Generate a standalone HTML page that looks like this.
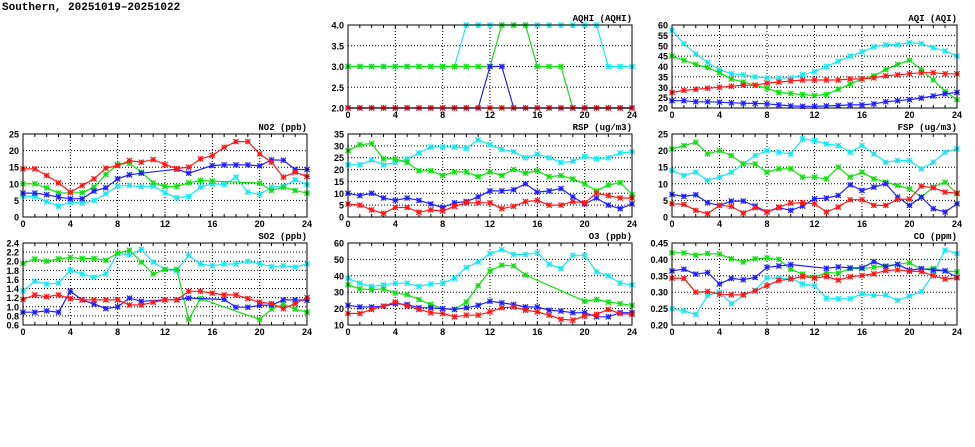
<!DOCTYPE html>
<html><head><meta charset="utf-8">
<style>
body{margin:0;background:#fff;width:975px;height:447px;overflow:hidden}
svg{display:block}
text{font-family:"Liberation Sans",sans-serif;font-weight:bold;fill:#000}
</style></head>
<body>
<svg id="chart" width="975" height="447">
<text x="2" y="10" font-size="11" style="font-family:'Liberation Mono',monospace">Southern, 20251019–20251022</text>
</svg>
<script>
const hours = [0,1,2,3,4,5,6,7,8,9,10,11,12,13,14,15,16,17,18,19,20,21,22,23,24];
const seriesColors = ["#18e8f0","#10e010","#2020ff","#ff1818"];

const aqhiCyan=[3,3,3,3,3,3,3,3,3,3,4,4,4,4,4,4,4,4,4,4,4,4,3,3,3];
const aqhiGreen=[3,3,3,3,3,3,3,3,3,3,3,3,3,4,4,4,3,3,3,2,2,2,2,2,2];
const aqhiBlue=[2,2,2,2,2,2,2,2,2,2,2,2,3,3,2,2,2,2,2,2,2,2,2,2,2];
const aqhiRed=[2,2,2,2,2,2,2,2,2,2,2,2,2,2,2,2,2,2,2,2,2,2,2,2,2];

const aqiCyan=[57.5,51,46,42,38.5,36.5,36,35,34.5,34.5,34.5,36,37.5,40,42.5,45,47,49.5,50.5,50.5,51.5,51,49,47.5,45];
const aqiGreen=[45,43,41,39.5,37,34,32.5,31,29.5,27.5,27,26.5,26,26.5,29,31.5,34,35.5,38.5,41,43,38.5,33.5,28,24];
const aqiBlue=[23.5,23.5,23,23,22.8,22.5,22.3,22.2,22,21.5,21,20.8,20.8,21,21.2,21.5,21.5,22,23,23.5,24,24.8,25.8,26.8,27.5];
const aqiRed=[27.5,28.5,29,29.5,30,30.5,31,31,32,32.5,33,33.5,33.5,33.5,33.5,34,34,34.5,35.5,36,36.5,37,37,36.5,36.5];

const no2Cyan=[6.3,6.2,4.6,3.3,4.5,4.2,5,7,9.3,9.5,9.1,9.3,7.3,5.8,6.2,9,10,9.8,12,7.5,6.8,9,9.2,11.2,9.8];
const no2Green=[10,10,8.8,7.2,7.3,7.3,9,12.8,15.8,16.2,13.5,10.3,9.2,9.2,10.3,11,10.8,null,null,null,10.2,8,9,8,7.2];
const no2Blue=[7.2,7.2,6.7,6,5.5,5.5,7.8,8.8,11.5,12.7,13.2,null,null,14.4,13.2,null,15.5,15.7,15.7,15.7,15.4,17.2,17.1,14.3,14.3];
const no2Red=[14.5,14.5,12.5,10.3,7.5,9.5,11.5,14.7,15.5,17,16.5,17.3,15.8,14.6,15,17.5,18.5,21,22.7,22.7,19,16.5,12,13.5,12.2];

const rspCyan=[22,22,24,22,23,24.5,27,29.5,29.5,29.5,29,32.5,30.5,28.5,27.5,25,26.5,25,23,23.5,25.5,24.5,25,27,27.5];
const rspGreen=[28,30.5,31,24.5,24.5,23,19.5,19.5,17.5,19,19,17,19,17.5,20,18.5,19.5,17,17.5,16,14,11,13.5,14.5,9.5];
const rspBlue=[10,9,10,8,7,8,7,5.5,4,6,6.5,8.5,11,11,11.5,14,10.5,11,12,8.5,5.5,8,5,3.5,5.5];
const rspRed=[5.5,5,3,1.5,4,4,2,3,2.5,4.5,6,6,6,3.5,4.5,6.5,7,5,5,6.5,6,10,9,8,8];

const fspCyan=[14,12.5,13.5,11,12,13.5,16,18.5,20,19.5,19,23.5,23,22,21.5,19.5,21.5,19,16.5,17,17,14.5,16.5,19.5,20.5];
const fspGreen=[20.5,21.5,22.5,19,20,18.5,16,16,13.5,14.5,14.5,12,12,11.5,15,12,13.5,11.5,10.5,9.5,8.5,6,9,10.5,7];
const fspBlue=[6.8,6.2,6.7,4.3,3.5,4.8,4.8,3.3,1.5,2.8,2,3.3,5.5,5.7,6.5,9.7,8,9,10,6,3.5,6,2.5,1.5,4];
const fspRed=[4,3.8,2,1,3.5,3.2,1.2,2.8,1.5,3,4.2,4.3,4,1.5,3,5.2,5.2,3.5,3.5,5.3,5.4,9.3,8.8,7.5,7.2];

const so2Cyan=[1.35,1.56,1.5,1.52,1.8,1.72,1.65,1.72,2.17,2.14,2.26,1.98,1.82,1.8,2.13,1.94,1.9,1.94,1.94,2.0,1.94,1.88,1.9,1.87,1.94];
const so2Green=[1.95,2.05,2.0,2.05,2.08,2.06,2.06,2.02,2.18,2.24,1.98,1.72,1.82,1.82,0.72,1.18,null,null,null,null,0.72,0.95,1.05,0.95,0.88];
const so2Blue=[0.88,0.88,0.91,0.88,1.34,1.15,1.06,0.96,1.0,1.19,1.12,null,1.15,1.15,1.19,null,null,1.16,0.99,0.99,1.03,1.04,1.15,1.15,1.14];
const so2Red=[1.16,1.26,1.22,1.26,1.18,1.15,1.15,1.15,1.15,1.04,1.04,1.1,1.15,1.15,1.34,1.34,1.3,1.26,1.26,1.18,1.1,1.07,0.96,1.07,1.2];

const o3Cyan=[38.5,35.5,33.5,34.5,35.5,35.5,33.5,35,35.5,38.5,45,48.5,53.5,56,53,53,54,47,44.5,52.5,52.5,42.5,40,35.5,34.5];
const o3Green=[34.5,32,31.5,32,29.5,28.5,25.5,22.5,20,19.5,24,34,43,46.5,46,40.5,null,null,null,null,24.5,25.5,24,23,22];
const o3Blue=[22,21,21,21.5,23,22.5,20.5,20.5,20,19.5,20.5,22,24.5,23.5,22.5,21,21,19,18.5,17.5,17.5,15,15,17.5,17.5];
const o3Red=[17,17,19.5,21.5,24,21.5,19.5,17.5,17,15,16,16,18,20.5,21,19,18,16,13.5,13,15.5,16.5,19.5,17,16.5];

const coCyan=[0.25,0.243,0.232,0.29,0.30,0.265,0.29,0.306,0.344,0.342,0.342,0.325,0.32,0.282,0.28,0.28,0.295,0.29,0.291,0.275,0.288,0.302,0.355,0.428,0.418];
const coGreen=[0.42,0.42,0.413,0.418,0.416,0.402,0.392,0.402,0.404,0.40,0.37,0.355,0.345,0.36,0.358,0.372,0.372,0.376,0.38,0.385,0.39,0.37,0.372,0.365,0.362];
const coBlue=[0.365,0.37,0.355,0.36,0.325,0.342,0.338,0.345,0.376,0.38,0.384,null,null,0.373,0.377,0.374,0.374,0.393,0.378,0.385,0.367,0.372,0.367,0.365,0.345];
const coRed=[0.343,0.342,0.30,0.302,0.294,0.292,0.292,0.304,0.32,0.336,0.34,0.348,0.343,0.348,0.337,0.347,0.351,0.356,0.366,0.368,0.364,0.363,0.35,0.34,0.344];

const xTicks=[0,4,8,12,16,20,24];
const aqhiTicks=[2,2.5,3,3.5,4];
const aqiTicks=[20,25,30,35,40,45,50,55,60];
const no2Ticks=[0,5,10,15,20,25];
const rspTicks=[0,5,10,15,20,25,30,35];
const fspTicks=[0,5,10,15,20,25];
const so2Ticks=[0.6,0.8,1.0,1.2,1.4,1.6,1.8,2.0,2.2,2.4];
const o3Ticks=[10,20,30,40,50,60];
const coTicks=[0.20,0.25,0.30,0.35,0.40,0.45];

const NS="http://www.w3.org/2000/svg";
const svg=document.getElementById('chart');
function mk(tag,attrs,parent){const e=document.createElementNS(NS,tag);for(const k in attrs)e.setAttribute(k,attrs[k]);(parent||svg).appendChild(e);return e;}

const panels=[
 {id:'aqhi',title:'AQHI (AQHI)',x0:348,x1:632,y0:25,y1:108,ticks:aqhiTicks,dec:1,series:[aqhiCyan,aqhiGreen,aqhiBlue,aqhiRed]},
 {id:'aqi',title:'AQI (AQI)',x0:672,x1:957,y0:25,y1:108,ticks:aqiTicks,dec:0,series:[aqiCyan,aqiGreen,aqiBlue,aqiRed]},
 {id:'no2',title:'NO2 (ppb)',x0:23,x1:307,y0:134,y1:217,ticks:no2Ticks,dec:0,series:[no2Cyan,no2Green,no2Blue,no2Red]},
 {id:'rsp',title:'RSP (ug/m3)',x0:348,x1:632,y0:134,y1:217,ticks:rspTicks,dec:0,series:[rspCyan,rspGreen,rspBlue,rspRed]},
 {id:'fsp',title:'FSP (ug/m3)',x0:672,x1:957,y0:134,y1:217,ticks:fspTicks,dec:0,series:[fspCyan,fspGreen,fspBlue,fspRed]},
 {id:'so2',title:'SO2 (ppb)',x0:23,x1:307,y0:243,y1:325,ticks:so2Ticks,dec:1,series:[so2Cyan,so2Green,so2Blue,so2Red]},
 {id:'o3',title:'O3 (ppb)',x0:348,x1:632,y0:243,y1:325,ticks:o3Ticks,dec:0,series:[o3Cyan,o3Green,o3Blue,o3Red]},
 {id:'co',title:'CO (ppm)',x0:672,x1:957,y0:243,y1:325,ticks:coTicks,dec:2,series:[coCyan,coGreen,coBlue,coRed]}
];
const seriesNames=['cyan','green','blue','red'];

panels.forEach(p=>{
 const g=mk('g',{});
 
 
 const ymin=p.ticks[0],ymax=p.ticks[p.ticks.length-1];
 const xs=v=>p.x0+(v-0)/(24)*(p.x1-p.x0);
 const ys=v=>p.y1-(v-ymin)/(ymax-ymin)*(p.y1-p.y0);
 const clip=mk('clipPath',{id:'clip-'+p.id},g);
 mk('rect',{x:p.x0-3,y:p.y0-3,width:p.x1-p.x0+6,height:p.y1-p.y0+6},clip);
 // grid
 p.ticks.forEach(t=>{
  const y=ys(t);
  if(t!==ymin&&t!==ymax){const l=mk('line',{x1:p.x0,x2:p.x1,y1:y,y2:y,stroke:'#000','stroke-width':1,'stroke-dasharray':'1,2'},g);
   }
  const tx=mk('text',{x:p.x0-4,y:y+3.5,'font-size':9,'text-anchor':'end'},g);
  tx.textContent=t.toFixed(p.dec);
  
 });
 for(let h=1;h<24;h++){
  const x=xs(h);
  mk('line',{x1:x,x2:x,y1:p.y1,y2:p.y1-3,stroke:'#000','stroke-width':1},g);
  mk('line',{x1:x,x2:x,y1:p.y0,y2:p.y0+3,stroke:'#000','stroke-width':1},g);
 }
 xTicks.forEach(t=>{
  const x=xs(t);
  if(t!==0&&t!==24){const l=mk('line',{x1:x,x2:x,y1:p.y0,y2:p.y1,stroke:'#000','stroke-width':1,'stroke-dasharray':'1,2'},g);
   }
  const tx=mk('text',{x:x,y:p.y1+10,'font-size':9,'text-anchor':'middle'},g);
  tx.textContent=t;
  
 });
 const sg=mk('g',{'clip-path':'url(#clip-'+p.id+')'},g);
 p.series.forEach((arr,si)=>{
  const c=seriesColors[si];
  const pts=[];
  arr.forEach((v,i)=>{if(v!==null)pts.push([xs(hours[i]),ys(v)]);});
  const pl=mk('polyline',{points:pts.map(q=>q[0].toFixed(1)+','+q[1].toFixed(1)).join(' '),fill:'none',stroke:c,'stroke-width':1.2},sg);
  
  
  pts.forEach(q=>{
   const r=2.6,[x,y]=q;
   const m=mk('path',{d:`M${x-r},${y-r}L${x+r},${y+r}M${x-r},${y+r}L${x+r},${y-r}M${x-r},${y}L${x+r},${y}M${x},${y-r}L${x},${y+r}`,stroke:c,'stroke-width':1.2,fill:'none'},sg);
   
   
  });
 });
 const fr=mk('rect',{x:p.x0,y:p.y0,width:p.x1-p.x0,height:p.y1-p.y0,fill:'none',stroke:'#000','stroke-width':1},g);
 
 const tt=mk('text',{x:p.x1,y:p.y0-4,'font-size':9,'text-anchor':'end',style:"font-family:'Liberation Mono',monospace"},g);
 tt.textContent=p.title;
 
});
</script>
</body></html>
